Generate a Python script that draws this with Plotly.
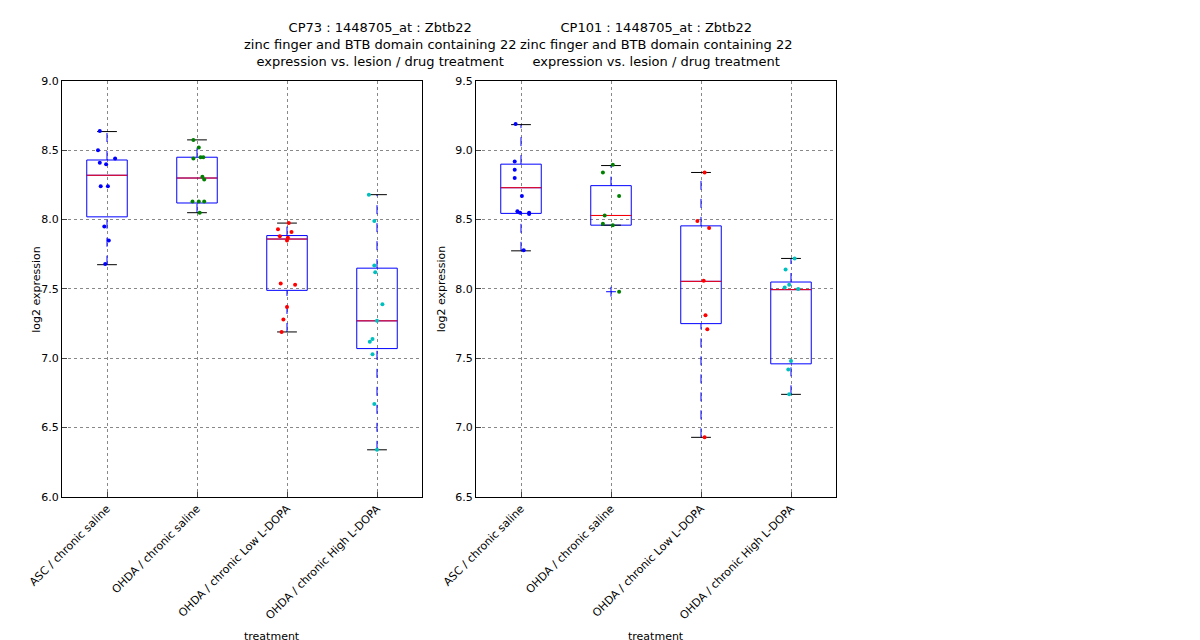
import plotly.graph_objects as go

groups = ["ASC / chronic saline", "OHDA / chronic saline",
          "OHDA / chronic Low L-DOPA", "OHDA / chronic High L-DOPA"]
colors = ["#0000ff", "#008000", "#ff0000", "#00bfbf"]

# CP73
cp73_vals = [
    [8.64, 8.50, 8.44, 8.41, 8.40, 8.24, 8.24, 7.95, 7.85, 7.68],
    [8.575, 8.52, 8.45, 8.45, 8.44, 8.31, 8.29, 8.13, 8.13, 8.13, 8.05],
    [7.975, 7.93, 7.91, 7.88, 7.87, 7.85, 7.54, 7.53, 7.37, 7.28, 7.19],
    [8.18, 7.99, 7.67, 7.62, 7.39, 7.27, 7.14, 7.12, 7.03, 6.67, 6.34],
]
cp73_jit = [
    [-0.08, -0.1, 0.09, -0.08, -0.01, -0.07, 0.01, -0.03, 0.02, -0.02],
    [-0.04, 0.02, 0.04, 0.07, -0.04, 0.06, 0.08, -0.05, 0.02, 0.08, 0.03],
    [0.02, -0.1, 0.05, -0.08, 0.01, 0.0, -0.07, 0.09, 0.0, -0.04, -0.06],
    [-0.09, -0.03, -0.03, -0.02, 0.06, 0.0, -0.05, -0.08, -0.05, -0.03, 0.0],
]
cp73_box = dict(q1=[8.02, 8.12, 7.49, 7.07], med=[8.32, 8.30, 7.86, 7.27],
                q3=[8.43, 8.45, 7.885, 7.65], lo=[7.675, 8.05, 7.19, 6.34],
                hi=[8.635, 8.575, 7.975, 8.18])

# CP101
cp101_vals = [
    [9.19, 8.92, 8.86, 8.80, 8.67, 8.56, 8.55, 8.54, 8.55, 8.28],
    [8.895, 8.84, 8.67, 8.53, 8.47, 8.46, 7.98],
    [8.84, 8.49, 8.44, 8.06, 7.81, 7.71, 6.93],
    [8.22, 8.14, 8.03, 8.01, 8.0, 7.48, 7.42, 7.24],
]
cp101_jit = [
    [-0.06, -0.07, -0.07, -0.07, 0.01, -0.04, -0.01, 0.09, 0.09, 0.03],
    [0.02, -0.09, 0.09, -0.07, -0.09, 0.02, 0.09],
    [0.04, -0.04, 0.09, 0.03, 0.05, 0.07, 0.04],
    [0.04, -0.06, -0.02, -0.07, 0.08, 0.0, -0.03, -0.02],
]
cp101_box = dict(q1=[8.545, 8.46, 7.75, 7.46], med=[8.73, 8.53, 8.055, 7.995],
                 q3=[8.90, 8.745, 8.455, 8.05], lo=[8.275, 8.46, 6.93, 7.24],
                 hi=[9.185, 8.89, 8.84, 8.22])
cp101_outliers = [[], [7.98], [], []]

fig = go.Figure()
panels = [("x", "y", cp73_vals, cp73_jit, cp73_box, [[], [], [], []]),
          ("x2", "y2", cp101_vals, cp101_jit, cp101_box, cp101_outliers)]
for xa, ya, vals, jit, box, outl in panels:
    for i in range(4):
        q1, q3, med, lo, hi = box["q1"][i], box["q3"][i], box["med"][i], box["lo"][i], box["hi"][i]
        # dashed whiskers
        for a, b in ((lo, q1), (q3, hi)):
            fig.add_trace(go.Scatter(
                x=[i + 1, i + 1], y=[a, b], mode="lines",
                line=dict(color="#0000ff", width=1, dash="dash"),
                xaxis=xa, yaxis=ya, showlegend=False, hoverinfo="skip"))
        fig.add_trace(go.Box(
            x=[i + 1], q1=[q1], median=[med], q3=[q3], lowerfence=[q1], upperfence=[q3],
            width=0.45, fillcolor="rgba(0,0,0,0)", line=dict(color="#0000ff", width=1),
            whiskerwidth=0, boxpoints=False, hoverinfo="skip",
            xaxis=xa, yaxis=ya, showlegend=False))
        fig.add_trace(go.Scatter(
            x=[i + 1 - 0.225, i + 1 + 0.225], y=[med] * 2, mode="lines",
            line=dict(color="#ff0000", width=1), xaxis=xa, yaxis=ya, showlegend=False))
        for v in (lo, hi):
            fig.add_trace(go.Scatter(
                x=[i + 1 - 0.11, i + 1 + 0.11], y=[v, v], mode="lines",
                line=dict(color="black", width=1), xaxis=xa, yaxis=ya, showlegend=False))
        if outl[i]:
            fig.add_trace(go.Scatter(
                x=[i + 1] * len(outl[i]), y=outl[i], mode="markers",
                marker=dict(symbol="cross-thin", size=7, line=dict(color="#0000ff", width=1)),
                xaxis=xa, yaxis=ya, showlegend=False))
        fig.add_trace(go.Scatter(
            x=[i + 1 + j for j in jit[i]], y=vals[i], mode="markers",
            marker=dict(color=colors[i], size=4), xaxis=xa, yaxis=ya, showlegend=False))

ax_common = dict(showline=True, linecolor="black", mirror=True, ticks="inside",
                 showgrid=True, gridcolor="#888", griddash="dot", gridwidth=1,
                 zeroline=False, automargin=False, tickfont=dict(size=11, color="black"))
fig.update_layout(
    width=1200, height=640, plot_bgcolor="white", paper_bgcolor="white",
    margin=dict(l=0, r=0, t=0, b=0),
    font=dict(family="DejaVu Sans", size=11, color="black"),
    xaxis=dict(domain=[0.045, 0.345], range=[0.5, 4.5], tickvals=[1, 2, 3, 4],
               ticktext=groups, tickangle=-45, **ax_common),
    xaxis2=dict(domain=[0.39, 0.69], range=[0.5, 4.5], tickvals=[1, 2, 3, 4],
                ticktext=groups, tickangle=-45, **ax_common),
    yaxis=dict(domain=[0.236, 0.886], range=[6, 9], dtick=0.5, tickformat=".1f",
               anchor="x", **ax_common),
    yaxis2=dict(domain=[0.236, 0.886], range=[6.5, 9.5], dtick=0.5, tickformat=".1f",
                anchor="x2", **ax_common),
)
titles = ["CP73 : 1448705_at : Zbtb22", "CP101 : 1448705_at : Zbtb22"]
for cx, t in [(0.195, titles[0]), (0.54, titles[1])]:
    fig.add_annotation(x=cx, y=0.985, xref="paper", yref="paper", yanchor="top",
                       showarrow=False, font=dict(size=13),
                       text=t + "<br>zinc finger and BTB domain containing 22"
                            "<br>expression vs. lesion / drug treatment")
    fig.add_annotation(x=cx, y=0.005, xref="paper", yref="paper", yanchor="bottom",
                       showarrow=False, text="treatment")
for xp in (0.017, 0.362):
    fig.add_annotation(x=xp, y=0.561, xref="paper", yref="paper", showarrow=False,
                       textangle=-90, text="log2 expression")

fig.write_html("out.html")
